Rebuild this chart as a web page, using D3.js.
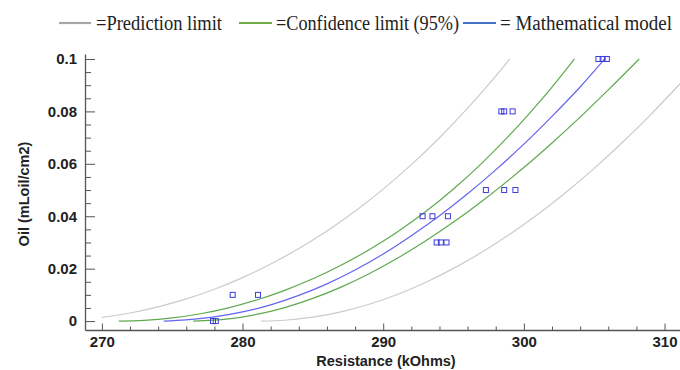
<!DOCTYPE html>
<html>
<head>
<meta charset="utf-8">
<script src="https://cdn.jsdelivr.net/npm/d3@7"></script>
<style>
  html, body { margin: 0; padding: 0; background: #fff; }
  svg { display: block; }
</style>
</head>
<body>
<svg id="chart" width="680" height="370"></svg>
<script>
// ---------------- DATA ----------------
const xTickValues = [270, 280, 290, 300, 310];
const yTickValues = [0, 0.02, 0.04, 0.06, 0.08, 0.1];

// observed points
const obsX = [277.9, 278.1, 279.3, 281.1, 292.8, 293.5, 294.6, 293.8, 294.1, 294.5,
              297.3, 298.6, 299.4, 298.4, 298.6, 299.2, 305.3, 305.6, 305.9];
const obsY = [0, 0, 0.01, 0.01, 0.04, 0.04, 0.04, 0.03, 0.03, 0.03,
              0.05, 0.05, 0.05, 0.08, 0.08, 0.08, 0.1, 0.1, 0.1];

// fitted model (blue)
const modelX = [274.4, 276, 278, 280, 282, 284, 286, 288, 290, 292, 294, 296, 298, 300, 302, 304, 305.75];
const modelY = [0, 0.0005, 0.0016, 0.0035, 0.0062, 0.0098, 0.0142, 0.0195, 0.0256, 0.0326, 0.0402, 0.0486, 0.0577, 0.0675, 0.0781, 0.0893, 0.1];

// confidence limits (green)
const confUpX = [271.2, 273, 275, 277, 279, 281, 283, 285, 287, 289, 291, 293, 295, 297, 299, 300.4, 302, 303.6];
const confUpY = [0, 0.00027, 0.00119, 0.00279, 0.00507, 0.00805, 0.01173, 0.01613, 0.02129, 0.02723, 0.034, 0.0417, 0.0504, 0.06017, 0.07102, 0.07924, 0.08922, 0.1];
const confLoX = [276.5, 279, 281, 283, 285, 287, 289, 291, 293, 295, 297, 299, 300.4, 302, 304, 306, 308.2];
const confLoY = [0, 0.00081, 0.00253, 0.00516, 0.00865, 0.01297, 0.01809, 0.02396, 0.03055, 0.03779, 0.04566, 0.05415, 0.06042, 0.06796, 0.07784, 0.08821, 0.1];

// prediction limits (gray)
const predUpX = [270, 272, 274, 276, 278, 280, 282, 284, 286, 288, 290, 292, 294, 296, 298, 299];
const predUpY = [0.0014, 0.00309, 0.00545, 0.00846, 0.01217, 0.01659, 0.02176, 0.02769, 0.03441, 0.04194, 0.05035, 0.05968, 0.06996, 0.08123, 0.09345, 0.1];
const predLoX = [281.3, 283, 285, 287, 289, 291, 293, 295, 297, 299, 301, 303, 305, 307, 309, 311.1];
const predLoY = [0, 0.00031, 0.00148, 0.00352, 0.00642, 0.01016, 0.01474, 0.02011, 0.02624, 0.03312, 0.04076, 0.04915, 0.05827, 0.06812, 0.07868, 0.09054];

const legendLabels = ["=Prediction limit", "=Confidence limit (95%)", "= Mathematical model"];
const xTitle = "Resistance (kOhms)";
const yTitle = "Oil (mLoil/cm2)";

// ---------------- DRAW ----------------
const svg = d3.select("#chart");
const x = d3.scaleLinear().domain([268.8, 311.1]).range([85, 680]);
const y = d3.scaleLinear().domain([-0.0034, 0.1019]).range([330, 54]);

const axisColor = "#555";
const labelFont = "'Liberation Sans', Arial, sans-serif";

svg.append("clipPath").attr("id", "plotclip")
  .append("rect").attr("x", 85).attr("y", 54).attr("width", 595).attr("height", 276);

// minor ticks x
const xMinor = d3.range(270, 311, 2).filter(v => v % 10 !== 0);
svg.append("g").attr("transform", "translate(0,330)")
  .call(d3.axisBottom(x).tickValues(xMinor).tickSize(-3.5).tickFormat(""))
  .call(g => g.select(".domain").remove())
  .call(g => g.selectAll("line").attr("stroke", axisColor));

// minor ticks y
const yMinor = d3.range(0, 21).map(i => +(i * 0.005).toFixed(3)).filter(v => Math.round(v * 1000) % 20 !== 0);
svg.append("g").attr("transform", "translate(85,0)")
  .call(d3.axisLeft(y).tickValues(yMinor).tickSize(-6).tickFormat(""))
  .call(g => g.select(".domain").remove())
  .call(g => g.selectAll("line").attr("stroke", axisColor));

// major x axis
const gx = svg.append("g").attr("transform", "translate(0,330)")
  .call(d3.axisBottom(x).tickValues(xTickValues).tickSize(-6.5).tickPadding(6).tickSizeOuter(0).tickFormat(d3.format("d")));
gx.select(".domain").attr("stroke", axisColor).attr("stroke-width", 1.3);
gx.selectAll("line").attr("stroke", axisColor);
gx.selectAll("text").attr("font-family", labelFont).attr("font-size", 15).attr("font-weight", "bold").attr("fill", "#222");

// major y axis
const gy = svg.append("g").attr("transform", "translate(85,0)")
  .call(d3.axisLeft(y).tickValues(yTickValues).tickSize(-10).tickPadding(8).tickSizeOuter(0)
        .tickFormat(d => String(+d.toFixed(2))));
gy.select(".domain").attr("stroke", axisColor).attr("stroke-width", 1.3);
gy.selectAll("line").attr("stroke", axisColor);
gy.selectAll("text").attr("font-family", labelFont).attr("font-size", 15).attr("font-weight", "bold").attr("fill", "#222");

// axis titles
svg.append("text").attr("x", 386).attr("y", 366).attr("text-anchor", "middle")
  .attr("font-family", labelFont).attr("font-size", 14.5).attr("font-weight", "bold").attr("fill", "#222")
  .text(xTitle);
svg.append("text").attr("transform", "translate(29,194) rotate(-90)").attr("text-anchor", "middle")
  .attr("font-family", labelFont).attr("font-size", 14.5).attr("font-weight", "bold").attr("fill", "#222")
  .text(yTitle);

// curves
const line = d3.line().x(d => x(d[0])).y(d => y(d[1])).curve(d3.curveMonotoneX);
const curves = [
  { xs: predUpX, ys: predUpY, color: "#cbcbcb" },
  { xs: predLoX, ys: predLoY, color: "#cbcbcb" },
  { xs: confUpX, ys: confUpY, color: "#5ea94f" },
  { xs: confLoX, ys: confLoY, color: "#5ea94f" },
  { xs: modelX, ys: modelY, color: "#6464f0" }
];
const gc = svg.append("g").attr("clip-path", "url(#plotclip)");
curves.forEach(c => {
  gc.append("path").datum(c.xs.map((v, i) => [v, c.ys[i]]))
    .attr("d", line).attr("fill", "none").attr("stroke", c.color).attr("stroke-width", 1.2);
});

// observed points
svg.append("g").selectAll("rect").data(obsX.map((v, i) => [v, obsY[i]])).join("rect")
  .attr("x", d => x(d[0]) - 2.5).attr("y", d => y(d[1]) - 2.5)
  .attr("width", 5).attr("height", 5)
  .attr("fill", "none").attr("stroke", "#3b3bdc").attr("stroke-width", 1);

// legend
const legendColors = ["#a6a6a6", "#70ad47", "#4472c4"];
const legendLine = [[59, 91], [239, 272], [463, 496]];
const legendText = [[96, 126], [276, 183], [500, 172]];
const lg = svg.append("g");
legendLabels.forEach((t, i) => {
  lg.append("line").attr("x1", legendLine[i][0]).attr("x2", legendLine[i][1])
    .attr("y1", 23).attr("y2", 23).attr("stroke", legendColors[i]).attr("stroke-width", 2.2);
  lg.append("text").attr("x", legendText[i][0]).attr("y", 30)
    .attr("font-family", "'Liberation Serif', 'Times New Roman', serif").attr("font-size", 20)
    .attr("fill", "#222").attr("textLength", legendText[i][1]).attr("lengthAdjust", "spacingAndGlyphs")
    .text(t);
});
</script>
</body>
</html>
